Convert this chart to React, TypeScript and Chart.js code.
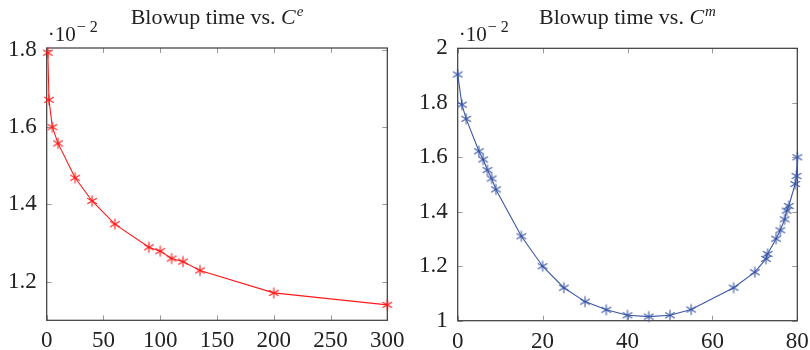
import React, { useEffect, useRef } from 'react';
import { Chart, registerables } from 'chart.js';
Chart.register(...registerables);

// ---- Data ----
const ceX = [1, 2, 5, 10, 25, 40, 60, 90, 100, 110, 120, 135, 200, 300];
const ceY = [1.793, 1.671, 1.6, 1.558, 1.469, 1.409, 1.349, 1.289, 1.279, 1.26, 1.252, 1.229, 1.171, 1.14];
const cmX = [0, 1, 2, 5, 6, 7, 8, 9, 15, 20, 25, 30, 35, 40, 45, 50, 55, 65, 70, 72.6, 73, 75, 76, 77, 77.5, 78, 79.5, 79.8, 80];
const cmY = [1.904, 1.793, 1.741, 1.622, 1.592, 1.553, 1.522, 1.482, 1.31, 1.2, 1.121, 1.07, 1.04, 1.02, 1.015, 1.02, 1.041, 1.121, 1.178, 1.227, 1.245, 1.301, 1.332, 1.372, 1.404, 1.421, 1.502, 1.531, 1.6];
const ceXTicks = [0, 50, 100, 150, 200, 250, 300];
const ceYTicks = [1.2, 1.4, 1.6, 1.8];
const cmXTicks = [0, 20, 40, 60, 80];
const cmYTicks = [1, 1.2, 1.4, 1.6, 1.8, 2];

const FONT = '"Liberation Serif", "Times New Roman", serif';

function makeAsterisk(color: string) {
  const s = 14;
  const c = document.createElement('canvas');
  c.width = s;
  c.height = s;
  const ctx = c.getContext('2d')!;
  ctx.strokeStyle = color;
  ctx.lineWidth = 1.1;
  const r = 5.5, cx = s / 2, cy = s / 2;
  ctx.beginPath();
  for (const a of [90, 30, 150]) {
    const rad = (a * Math.PI) / 180;
    ctx.moveTo(cx - r * Math.cos(rad), cy - r * Math.sin(rad));
    ctx.lineTo(cx + r * Math.cos(rad), cy + r * Math.sin(rad));
  }
  ctx.stroke();
  return c;
}

type PanelProps = {
  left: number;
  xs: number[];
  ys: number[];
  xTicks: number[];
  yTicks: number[];
  xMin: number; xMax: number; yMin: number; yMax: number;
  color: string;
  sup: string;
  padTop: number; padRight: number; yWidth: number; xHeight: number;
};

function Panel(p: PanelProps) {
  const ref = useRef<HTMLCanvasElement>(null);
  useEffect(() => {
    const marker = makeAsterisk(p.color);
    const deco = {
      id: 'deco',
      beforeDatasetsDraw(chart: any) {
        const { ctx, chartArea: a, scales } = chart;
        ctx.save();
        ctx.strokeStyle = '#9a9a9a';
        ctx.lineWidth = 1;
        const tl = 5;
        ctx.beginPath();
        for (const t of scales.x.ticks) {
          const x = Math.round(scales.x.getPixelForValue(t.value)) + 0.5;
          ctx.moveTo(x, a.bottom); ctx.lineTo(x, a.bottom - tl);
          ctx.moveTo(x, a.top); ctx.lineTo(x, a.top + tl);
        }
        for (const t of scales.y.ticks) {
          const y = Math.round(scales.y.getPixelForValue(t.value)) + 0.5;
          ctx.moveTo(a.left, y); ctx.lineTo(a.left + tl, y);
          ctx.moveTo(a.right, y); ctx.lineTo(a.right - tl, y);
        }
        ctx.stroke();
        ctx.strokeStyle = '#3a3a3a';
        ctx.lineWidth = 1.2;
        ctx.strokeRect(a.left, a.top, a.right - a.left, a.bottom - a.top);
        ctx.restore();
      },
      afterDraw(chart: any) {
        const { ctx, chartArea: a } = chart;
        ctx.save();
        ctx.fillStyle = '#222';
        ctx.textBaseline = 'alphabetic';
        ctx.textAlign = 'left';
        // Title
        const f1 = `22px ${FONT}`;
        const f2 = `italic 22px ${FONT}`;
        const f3 = `italic 15px ${FONT}`;
        const t1 = 'Blowup time vs. ';
        ctx.font = f1; const w1 = ctx.measureText(t1).width;
        ctx.font = f2; const w2 = ctx.measureText('C').width;
        ctx.font = f3; const w3 = ctx.measureText(p.sup).width;
        const total = w1 + w2 + 1 + w3;
        let x = (a.left + a.right) / 2 - total / 2;
        const by = 24;
        ctx.font = f1; ctx.fillText(t1, x, by); x += w1;
        ctx.font = f2; ctx.fillText('C', x, by); x += w2 + 1;
        ctx.font = f3; ctx.fillText(p.sup, x, by - 8);
        // Exponent label
        const ex = a.left + 1;
        ctx.font = `21px ${FONT}`;
        const e1 = '·10';
        ctx.fillText(e1, ex, 41);
        const we = ctx.measureText(e1).width;
        ctx.font = `16px ${FONT}`;
        ctx.fillText('− 2', ex + we + 1, 32);
        ctx.restore();
      },
    };
    const chart = new Chart(ref.current!, {
      type: 'scatter',
      data: {
        datasets: [
          {
            data: p.xs.map((x, i) => ({ x, y: p.ys[i] })),
            showLine: true,
            borderColor: p.color,
            backgroundColor: p.color,
            borderWidth: 1.1,
            pointStyle: marker as any,
            pointRadius: 6,
            tension: 0,
            clip: false as any,
          },
        ],
      },
      options: {
        responsive: true,
        maintainAspectRatio: false,
        animation: false,
        layout: { padding: { top: p.padTop, right: p.padRight, bottom: 0, left: 0 } },
        plugins: { legend: { display: false }, tooltip: { enabled: false }, title: { display: false } },
        scales: {
          x: {
            type: 'linear',
            min: p.xMin,
            max: p.xMax,
            afterBuildTicks: (s: any) => { s.ticks = p.xTicks.map((v) => ({ value: v })); },
            afterFit: (s: any) => { s.height = p.xHeight; },
            grid: { display: false },
            border: { display: false },
            ticks: {
              padding: -1,
              color: '#222',
              font: { family: FONT, size: 23 },
              maxRotation: 0,
              autoSkip: false,
              callback: (v: any) => String(v),
            },
          },
          y: {
            type: 'linear',
            min: p.yMin,
            max: p.yMax,
            afterBuildTicks: (s: any) => { s.ticks = p.yTicks.map((v) => ({ value: v })); },
            afterFit: (s: any) => { s.width = p.yWidth; },
            grid: { display: false },
            border: { display: false },
            ticks: {
              padding: 2,
              color: '#222',
              font: { family: FONT, size: 23 },
              autoSkip: false,
              callback: (v: any) => String(+Number(v).toFixed(1)),
            },
          },
        },
      },
      plugins: [deco],
    });
    return () => chart.destroy();
  }, []);
  return (
    <div style={{ position: 'absolute', left: p.left, top: 0, width: 405, height: 350 }}>
      <canvas ref={ref} />
    </div>
  );
}

export default function App() {
  return (
    <div style={{ position: 'absolute', left: 0, top: 0, width: 810, height: 350, background: '#fff' }}>
      <Panel left={0} xs={ceX} ys={ceY} xTicks={ceXTicks} yTicks={ceYTicks}
        xMin={0} xMax={300} yMin={1.1} yMax={1.805} color="#ff1a1a" sup="e"
        padTop={48} padRight={17.7} yWidth={46.7} xHeight={29.7} />
      <Panel left={405} xs={cmX} ys={cmY} xTicks={cmXTicks} yTicks={cmYTicks}
        xMin={0} xMax={80} yMin={1} yMax={2} color="#3b57a6" sup="m"
        padTop={48.3} padRight={12.7} yWidth={52.7} xHeight={29.3} />
    </div>
  );
}
